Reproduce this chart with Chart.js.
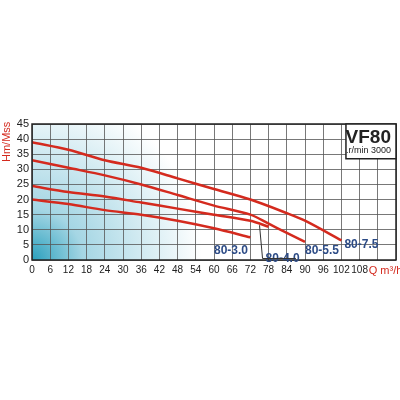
<!DOCTYPE html>
<html>
<head>
<script src="https://cdn.jsdelivr.net/npm/chart.js@4"></script>
<style>body{margin:0;background:#fff}#wrap{width:400px;height:400px}</style>
</head>
<body>
<div id="wrap"><canvas id="pump"></canvas></div>
<script>
// curve data: Q (m3/h) and H (m)
const q75 = [0, 12, 24, 36, 48, 60, 72, 84, 90, 102];
const h75 = [39, 36.5, 33, 30.5, 27, 23.5, 20, 15.5, 13, 6.5];
const q55 = [0, 12, 24, 36, 48, 60, 72, 78, 84, 90];
const h55 = [33, 30.5, 28, 25, 21.5, 18, 15, 12, 9, 6];
const q40 = [0, 12, 24, 36, 48, 60, 72, 78];
const h40 = [24.5, 22.5, 21, 19, 17, 15, 13, 11];
const q30 = [0, 12, 24, 36, 48, 60, 72];
const h30 = [20, 18.5, 16.5, 15, 13, 10.5, 7.5];
const curveNames = ["80-7.5", "80-5.5", "80-4.0", "80-3.0"];

const pts = (xs, ys) => xs.map((x, i) => ({ x: x, y: ys[i] }));
const allQ = [q75, q55, q40, q30];
const allH = [h75, h55, h40, h30];

let datasets = [];
for (let i = 0; i < 4; i++) {
  datasets.push({
    label: curveNames[i],
    data: pts(allQ[i], allH[i]),
    borderColor: "#d42a1e",
    borderWidth: 2.5,
    pointRadius: 0,
    tension: 0.3,
    fill: false,
  });
}

const extras = {
  id: "extras",
  beforeDraw(chart) {
    const { ctx, chartArea: a } = chart;
    let g = ctx.createRadialGradient(a.left, a.bottom, 0, a.left, a.bottom, 170);
    g.addColorStop(0, "#2aa0bd");
    g.addColorStop(0.3, "#a5d6e4");
    g.addColorStop(1, "#ffffff");
    ctx.save();
    ctx.fillStyle = g;
    ctx.fillRect(a.left, a.top, a.right - a.left, a.bottom - a.top);
    ctx.restore();
  },
  afterDraw(chart) {
    const { ctx, chartArea: a, scales } = chart;
    const x = scales.x, y = scales.y;
    ctx.save();
    ctx.strokeStyle = "#222";
    ctx.lineWidth = 1.5;
    ctx.strokeRect(a.left, a.top, a.right - a.left, a.bottom - a.top);
    // title box
    const bx = x.getPixelForValue(103.5), by = y.getPixelForValue(33.5);
    ctx.fillStyle = "#fff";
    ctx.fillRect(bx, a.top, a.right - bx, by - a.top);
    ctx.strokeRect(bx, a.top, a.right - bx, by - a.top);
    ctx.fillStyle = "#222";
    ctx.textAlign = "right";
    ctx.font = "bold 19px 'Liberation Sans'";
    ctx.fillText("VF80", a.right - 5, a.top + 19);
    ctx.font = "9px 'Liberation Sans'";
    ctx.fillText(".r/min 3000", a.right - 5, a.top + 29);
    // curve labels
    ctx.fillStyle = "#2c4b86";
    ctx.font = "bold 12px 'Liberation Sans'";
    ctx.textAlign = "left";
    ctx.fillText("80-3.0", x.getPixelForValue(60), y.getPixelForValue(2));
    ctx.fillText("80-4.0", x.getPixelForValue(77), y.getPixelForValue(-0.5));
    ctx.fillText("80-5.5", x.getPixelForValue(90), y.getPixelForValue(2));
    ctx.fillText("80-7.5", x.getPixelForValue(103), y.getPixelForValue(4));
    // leader line for 80-4.0
    ctx.strokeStyle = "#333";
    ctx.lineWidth = 1;
    ctx.beginPath();
    ctx.moveTo(x.getPixelForValue(75), y.getPixelForValue(11.5));
    ctx.lineTo(x.getPixelForValue(76), y.getPixelForValue(0.5));
    ctx.lineTo(x.getPixelForValue(87), y.getPixelForValue(0.5));
    ctx.stroke();
    // axis titles
    ctx.fillStyle = "#d42a1e";
    ctx.font = "11px 'Liberation Sans'";
    ctx.fillText("Q m\u00b3/h", x.getPixelForValue(111), a.bottom + 14);
    ctx.translate(10, a.top + 38);
    ctx.rotate(-Math.PI / 2);
    ctx.fillText("Hm/Mss", 0, 0);
    ctx.restore();
  },
};

new Chart("pump", {
  type: "line",
  data: { datasets: datasets },
  plugins: [extras],
  options: {
    responsive: true,
    maintainAspectRatio: false,
    animation: false,
    layout: { padding: { top: 124, bottom: 120, left: 0, right: 3 } },
    plugins: { legend: { display: false }, tooltip: { enabled: false } },
    scales: {
      x: {
        type: "linear",
        min: 0,
        max: 120,
        grid: { color: "#555", lineWidth: 0.8, drawTicks: false },
        border: { display: false },
        ticks: {
          stepSize: 6,
          autoSkip: false,
          maxRotation: 0,
          color: "#222",
          font: { size: 10, family: "Liberation Sans" },
          padding: 4,
          callback: (v) => (v <= 108 ? v : ""),
        },
      },
      y: {
        min: 0,
        max: 45,
        afterFit: (s) => { s.width = 32; },
        grid: { color: "#555", lineWidth: 0.8, drawTicks: false },
        border: { display: false },
        ticks: {
          stepSize: 5,
          autoSkip: false,
          color: "#222",
          font: { size: 11, family: "Liberation Sans" },
          padding: 3,
        },
      },
    },
  },
});
</script>
</body>
</html>
